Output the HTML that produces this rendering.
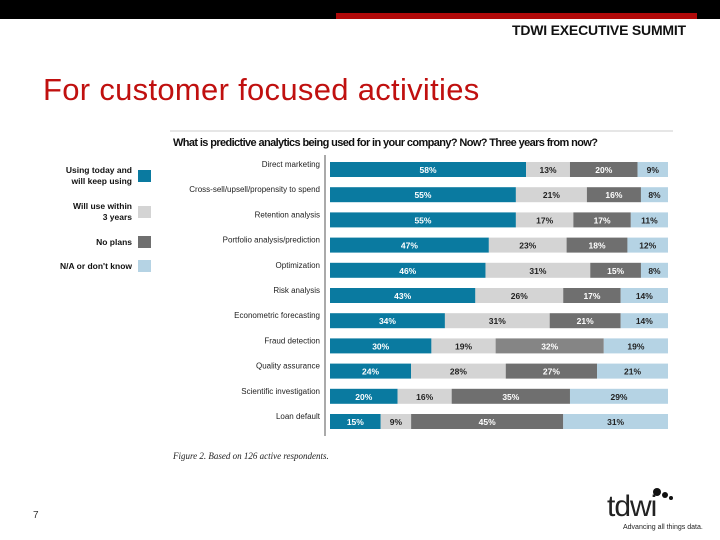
<!DOCTYPE html>
<html><head><meta charset="utf-8"><style>
body{margin:0;width:720px;height:540px;background:#fff;position:relative;overflow:hidden;font-family:"Liberation Sans",sans-serif}
.abs{position:absolute}
</style></head><body>
<div class="abs" style="left:0;top:0;width:720px;height:19px;background:#000"></div>
<div class="abs" style="left:336px;top:13px;width:361px;height:6px;background:#b00a0a"></div>
<div class="abs" style="left:512px;top:22px;font-size:14px;font-weight:bold;letter-spacing:-0.2px;color:#111">TDWI EXECUTIVE SUMMIT</div>
<div class="abs" style="left:43px;top:72px;font-size:31px;letter-spacing:0.3px;color:#c0100f">For customer focused activities</div>
<div class="abs" style="left:33px;top:510px;font-size:10px;color:#333">7</div>
<div class="abs" style="left:605px;top:486px;width:110px;height:50px">
 <div class="abs" style="left:2px;top:4px;font-size:30px;letter-spacing:-1px;color:#222;font-weight:300">tdwi</div>
 <div class="abs" style="left:48px;top:2px;width:8px;height:8px;border-radius:50%;background:#111"></div>
 <div class="abs" style="left:57px;top:6px;width:6px;height:6px;border-radius:50%;background:#111"></div>
 <div class="abs" style="left:64px;top:10px;width:4px;height:4px;border-radius:50%;background:#111"></div>
 <div class="abs" style="left:18px;top:38px;font-size:7px;color:#222;white-space:nowrap">Advancing all things data.</div>
</div>
<svg class="abs" style="left:0;top:0" width="720" height="540" id="chart">
 <line x1="170" y1="131" x2="673" y2="131" stroke="#ccc" stroke-width="1"/>
 <text x="173" y="146" font-size="11" font-weight="bold" fill="#111" font-family="Liberation Sans Narrow, Liberation Sans, sans-serif" textLength="425">What is predictive analytics being used for in your company? Now? Three years from now?</text>
 <line x1="325" y1="155" x2="325" y2="436" stroke="#555" stroke-width="1"/>
 <text x="173" y="459" font-size="9" font-style="italic" fill="#222" font-family="Liberation Serif, serif">Figure 2. Based on 126 active respondents.</text>
 <g id="bars"></g><g id="legend"></g>
</svg>
<script>
const categories=["Direct marketing","Cross-sell/upsell/propensity to spend","Retention analysis","Portfolio analysis/prediction","Optimization","Risk analysis","Econometric forecasting","Fraud detection","Quality assurance","Scientific investigation","Loan default"];
const usingToday=[58,55,55,47,46,43,34,30,24,20,15];
const within3=[13,21,17,23,31,26,31,19,28,16,9];
const noPlans=[20,16,17,18,15,17,21,32,27,35,45];
const naDontKnow=[9,8,11,12,8,14,14,19,21,29,31];
const seriesNames=["Using today and will keep using","Will use within 3 years","No plans","N/A or don't know"];
const colors=["#0a7aa0","#d4d4d4","#6f6f6f","#b5d3e4"];
const textColors=["#fff","#222","#fff","#222"];
const series=[usingToday,within3,noPlans,naDontKnow];
const NS="http://www.w3.org/2000/svg";
const x0=330,xw=338;
const xScale=v=>x0+v/100*xw;
const yScale=i=>162+i*25.2;
const barH=15;
const g=document.getElementById('bars');
function mk(tag,attrs){const e=document.createElementNS(NS,tag);for(const k in attrs)e.setAttribute(k,attrs[k]);return e;}
categories.forEach((c,i)=>{
 const y=yScale(i);
 const lab=mk('text',{x:320,y:y+5,'font-size':8,'text-anchor':'end',fill:'#222','font-family':'Liberation Sans Narrow, Liberation Sans, sans-serif'});
 
 
 lab.textContent=c;g.appendChild(lab);
 let cum=0;
 series.forEach((s,j)=>{
  const v=s[i];
  const r=mk('rect',{x:xScale(cum),y:y,width:xScale(cum+v)-xScale(cum),height:barH,fill:(j==2&&i==7)?'#858585':colors[j]});
  
  
  g.appendChild(r);
  const t=mk('text',{x:(xScale(cum)+xScale(cum+v))/2,y:y+11,'font-size':8.5,'font-weight':'bold','text-anchor':'middle',fill:textColors[j]});
  
  
  t.textContent=v+'%';g.appendChild(t);
  cum+=v;
 });
});
const lg=document.getElementById('legend');
const legLines=[["Using today and","will keep using"],["Will use within","3 years"],["No plans"],["N/A or don't know"]];
const legY=[176,212,242,266];
legLines.forEach((ls,j)=>{
 const sy=legY[j];
 const sw=mk('rect',{x:138,y:sy-6,width:13,height:12,fill:colors[j]});
 
 
 lg.appendChild(sw);
 ls.forEach((l,k)=>{
  const ty=ls.length==2?sy-3+k*11:sy+3;
  const t=mk('text',{x:132,y:ty,'font-size':8.5,'font-weight':'bold','text-anchor':'end',fill:'#111'});
  
  
  t.textContent=l;lg.appendChild(t);
 });
});
</script>
</body></html>
